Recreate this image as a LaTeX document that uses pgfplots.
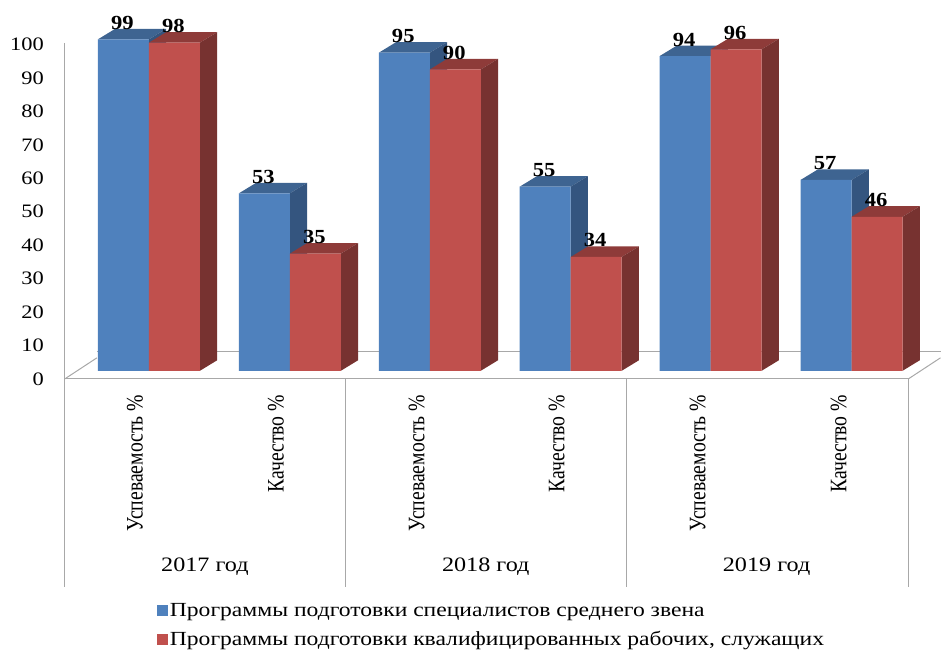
\documentclass[border=0pt]{standalone}
\usepackage{fontspec}
\setmainfont{Liberation Serif}
\usepackage{pgfplots}
\pgfplotsset{compat=1.18}
\definecolor{bf}{HTML}{4F81BD}
\definecolor{bt}{HTML}{3E6491}
\definecolor{bs}{HTML}{34557F}
\definecolor{rf}{HTML}{C0504D}
\definecolor{rt}{HTML}{8E3B39}
\definecolor{rs}{HTML}{773230}
\definecolor{gl}{HTML}{A8A8A8}
% #1 left x of the front face, #2 value, #3 top colour, #4 side colour
\newcommand\faces[4]{%
  \addplot[fill=#3,draw=none,forget plot] coordinates {(#1,#2) (#1+17.3,#2+3.15) (#1+68.3,#2+3.15) (#1+51,#2)} --cycle;
  \addplot[fill=#4,draw=none,forget plot] coordinates {(#1+51,#2) (#1+68.3,#2+3.15) (#1+68.3,3.15) (#1+51,0)} --cycle;
}
\newcommand\grayline[4]{\addplot[gl,line width=1pt,forget plot] coordinates {(#1,{(371-#2)/3.35}) (#3,{(371-#4)/3.35})};}
\newcommand\ticklab[2]{\node[anchor=east,inner sep=0pt,font=\fontsize{19}{19}\selectfont,xscale=1.18] at (axis cs:44,{(371-#2)/3.35}) {#1};}
\newcommand\vlab[2]{\node[rotate=90,anchor=east,inner sep=0pt,font=\fontsize{19.7}{19.7}\selectfont] at (axis cs:#1,{(371-395)/3.35}) {\scalebox{1}[1.2]{#2}};}
\newcommand\yearlab[2]{\node[inner sep=0pt,font=\fontsize{20.5}{20.5}\selectfont,xscale=1.18] at (axis cs:#1,{(371-567)/3.35}) {#2};}
\pgfplotsset{barlabels/.style={nodes near coords={\pgfmathprintnumber[assume math mode=true]{\pgfplotspointmeta}},
  every node near coord/.append style={anchor=center,yshift=16.5pt,xshift=-1pt,
    font=\fontsize{20}{20}\selectfont\bfseries,xscale=1.13,inner sep=0pt,text=black}}}
\begin{document}
\begin{tikzpicture}
\begin{axis}[
  scale only axis,width=941pt,height=650pt,
  xmin=0,xmax=941,ymin=-83.284,ymax=110.746,
  hide axis,clip=false,
  legend cell align=left,
  legend style={draw=none,fill=none,at={(axis cs:157,{(371-602)/3.35})},anchor=north west,
    font=\fontsize{20}{20}\selectfont,row sep=9pt,inner sep=0pt,outer sep=0pt,
    /tikz/every even column/.append style={column sep=6pt}},
]
% page extent
\addplot[draw=none,forget plot] coordinates {(0,-83.284) (941,110.746)};
% frame lines
\grayline{65}{43}{65}{379}
\grayline{65}{379}{909}{379}
\grayline{65}{379}{97}{358}
\grayline{97}{352}{941}{352}
\grayline{909}{379}{941}{358}
\grayline{65}{379}{65}{587}
\grayline{346}{379}{346}{587}
\grayline{627}{379}{627}{587}
\grayline{909}{379}{909}{587}
% blue
\faces{98}{99}{bt}{bs}
\faces{239}{53}{bt}{bs}
\faces{379}{95}{bt}{bs}
\faces{520}{55}{bt}{bs}
\faces{660}{94}{bt}{bs}
\faces{801}{57}{bt}{bs}
\addplot[ybar,bar width=51,bar shift=0pt,fill=bf,draw=none,barlabels,
  legend image code/.code={\fill[bf] (0pt,-5.5pt) rectangle (11pt,5.5pt);}]
  coordinates {(123.5,99) (264.5,53) (404.5,95) (545.5,55) (685.5,94) (826.5,57)};
\addlegendentry{\scalebox{1.18}[1]{Программы подготовки специалистов среднего звена}}
% red
\faces{149}{98}{rt}{rs}
\faces{290}{35}{rt}{rs}
\faces{430}{90}{rt}{rs}
\faces{571}{34}{rt}{rs}
\faces{711}{96}{rt}{rs}
\faces{852}{46}{rt}{rs}
\addplot[ybar,bar width=51,bar shift=0pt,fill=rf,draw=none,barlabels,
  legend image code/.code={\fill[rf] (0pt,-5.5pt) rectangle (11pt,5.5pt);}]
  coordinates {(174.5,98) (315.5,35) (455.5,90) (596.5,34) (736.5,96) (877.5,46)};
\addlegendentry{\scalebox{1.18}[1]{Программы подготовки квалифицированных рабочих, служащих}}
% text
\ticklab{100}{44}\ticklab{90}{78}\ticklab{80}{111}\ticklab{70}{145}\ticklab{60}{178}\ticklab{50}{211}
\ticklab{40}{245}\ticklab{30}{278}\ticklab{20}{312}\ticklab{10}{345}\ticklab{0}{379}
\vlab{135}{Успеваемость \%}\vlab{276}{Качество \%}
\vlab{417}{Успеваемость \%}\vlab{557}{Качество \%}
\vlab{698}{Успеваемость \%}\vlab{839}{Качество \%}
\yearlab{205}{2017 год}\yearlab{486}{2018 год}\yearlab{767}{2019 год}
\end{axis}
\end{tikzpicture}
\end{document}
